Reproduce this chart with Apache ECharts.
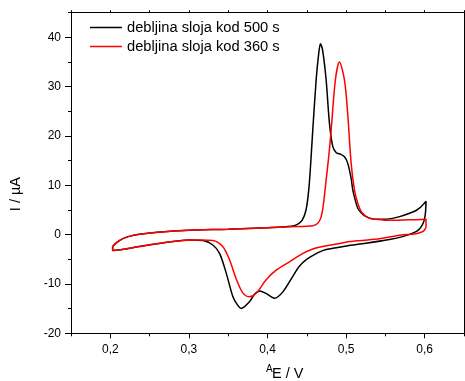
<!DOCTYPE html>
<html><head><meta charset="utf-8">
<script src="https://cdn.jsdelivr.net/npm/echarts@6/dist/echarts.min.js"></script>
<style>html,body{margin:0;padding:0;background:#fff}#c{width:465px;height:381px}</style>
</head><body><div id="c"></div>
<script>
const seriesNames = ['debljina sloja kod 500 s', 'debljina sloja kod 360 s'];
const xTickLabels = ['0,15','0,2','0,25','0,3','0,35','0,4','0,45','0,5','0,55','0,6','0,65'];
const yTickLabels = ['-20','-15','-10','-5','0','5','10','15','20','25','30','35','40','45'];

// 500 s curve (black): forward scan then reverse scan
const blackE = [0.203,0.208,0.216,0.225,0.237,0.26,0.30,0.35,0.40,0.43,0.438,0.444,0.449,0.453,0.4576,0.4619,0.465,0.4674,0.470,0.4746,0.4788,0.483,0.4875,0.4915,0.4979,0.502,0.5063,0.5085,0.512,0.515,0.52,0.5254,0.538,0.5466,0.559,0.568,0.580,0.589,0.595,0.6017,
  0.601,0.5995,0.597,0.593,0.589,0.580,0.572,0.555,0.525,0.50,0.4746,0.465,0.449,0.44,0.432,0.4195,0.409,0.398,0.390,0.384,0.377,0.3665,0.362,0.356,0.3475,0.339,0.3305,0.318,0.301,0.28,0.237,0.215,0.203,0.203];
const blackI = [-2.4,-1.6,-0.8,-0.3,0.1,0.5,0.9,1.1,1.4,1.7,2.1,2.9,5.0,10,21.2,31.4,36.5,38.7,37.5,31.4,22.6,17.9,16.6,16.4,15.8,14.5,11.5,9.1,6.8,5.3,4.3,3.65,3.1,3.1,3.3,3.65,4.3,4.9,5.6,6.8,
  4.5,3.0,2.0,1.1,0.6,0.0,-0.4,-1.0,-1.76,-2.3,-3.0,-3.6,-5.1,-6.5,-8.5,-11.6,-12.9,-11.9,-11.4,-12.0,-13.6,-14.95,-14.3,-12.6,-7.8,-3.8,-2.1,-1.2,-1.08,-1.4,-2.4,-3.0,-3.2,-2.4];

// 360 s curve (red)
const redE = [0.203,0.208,0.216,0.225,0.237,0.26,0.30,0.35,0.40,0.43,0.4576,0.464,0.468,0.471,0.4746,0.478,0.481,0.4864,0.4915,0.4979,0.502,0.5064,0.5106,0.515,0.52,0.5297,0.538,0.555,0.58,0.6017,
  0.6017,0.5995,0.597,0.589,0.568,0.54,0.504,0.4915,0.470,0.4576,0.445,0.428,0.411,0.398,0.3856,0.377,0.3686,0.360,0.3517,0.343,0.3305,0.3135,0.28,0.237,0.215,0.203,0.203];
const redI = [-2.4,-1.6,-0.8,-0.3,0.1,0.5,0.9,1.1,1.4,1.6,1.8,2.3,3.5,6,11.1,16,21.2,31.4,35.0,31.4,24.6,14.5,9.1,6.3,4.5,3.3,3.1,2.9,3.0,3.1,
  1.6,0.9,0.6,0.2,-0.1,-0.9,-1.4,-1.8,-2.4,-2.9,-3.8,-5.5,-7.2,-9.2,-11.9,-12.6,-11.8,-8.9,-5.1,-2.4,-1.2,-1.1,-1.4,-2.4,-3.0,-3.2,-2.4];

const pairs = (a, b) => a.map((v, i) => [v, b[i]]);
const FONT = 'Liberation Sans, Arial, sans-serif';
const LINE = {show: true, onZero: false, lineStyle: {color: '#000', width: 1}};

const chart = echarts.init(document.getElementById('c'), null, {renderer: 'canvas'});
chart.setOption({
  animation: false,
  backgroundColor: '#fff',
  grid: {left: 71, right: 1, top: 12.7, bottom: 47.7, containLabel: false},
  legend: {
    orient: 'vertical', left: 90, top: 20, padding: 0, itemWidth: 32, itemHeight: 14, itemGap: 4,
    textStyle: {fontFamily: FONT, fontSize: 14.7, color: '#000'},
    data: seriesNames.map(n => ({name: n, icon: 'path://M0,0L32,0L32,1.5L0,1.5Z'}))
  },
  xAxis: [
    {type: 'value', position: 'bottom', min: 0.15, max: 0.65, interval: 0.05,
     axisLine: LINE,
     axisTick: {show: true, length: 3, lineStyle: {color: '#000'}},
     axisLabel: {show: false}, splitLine: {show: false}},
    {type: 'category', position: 'bottom', boundaryGap: false, data: xTickLabels,
     axisLine: {show: false, onZero: false},
     axisTick: {show: true, length: 5, interval: (i) => i % 2 === 1, lineStyle: {color: '#000'}},
     axisLabel: {show: true, interval: (i) => i % 2 === 1, margin: 10, fontFamily: FONT, fontSize: 12, color: '#000'},
     splitLine: {show: false}},
    {type: 'value', position: 'top', min: 0.15, max: 0.65, interval: 0.05,
     axisLine: LINE,
     axisTick: {show: true, length: 2.5, inside: false, lineStyle: {color: '#000'}},
     axisLabel: {show: false}, splitLine: {show: false}}
  ],
  yAxis: [
    {type: 'value', position: 'left', min: -20, max: 45, interval: 5,
     axisLine: LINE,
     axisTick: {show: true, length: 3, lineStyle: {color: '#000'}},
     axisLabel: {show: false}, splitLine: {show: false}},
    {type: 'category', position: 'left', boundaryGap: false, data: yTickLabels,
     axisLine: {show: false, onZero: false},
     axisTick: {show: true, length: 6, interval: (i) => i % 2 === 0 && i < 13, lineStyle: {color: '#000'}},
     axisLabel: {show: true, interval: (i) => i % 2 === 0 && i < 13, margin: 10, fontFamily: FONT, fontSize: 12, color: '#000'},
     splitLine: {show: false}},
    {type: 'value', position: 'right', min: -20, max: 45, interval: 5,
     axisLine: LINE,
     axisTick: {show: false}, axisLabel: {show: false}, splitLine: {show: false}}
  ],
  series: [
    {name: seriesNames[0], type: 'line', xAxisIndex: 0, yAxisIndex: 0, data: pairs(blackE, blackI),
     symbol: 'none', smooth: 0.3, lineStyle: {color: '#000', width: 1.5}, itemStyle: {color: '#000'}, z: 2},
    {name: seriesNames[1], type: 'line', xAxisIndex: 0, yAxisIndex: 0, data: pairs(redE, redI),
     symbol: 'none', smooth: 0.3, lineStyle: {color: '#ff0000', width: 1.5}, itemStyle: {color: '#ff0000'}, z: 3}
  ],
  graphic: [
    {type: 'text', left: 8, top: 177, rotation: Math.PI / 2,
     style: {text: 'I / µA', fontFamily: FONT, fontSize: 14.5, fill: '#000'}},
    {type: 'text', left: 272, top: 366, style: {text: 'E / V', fontFamily: FONT, fontSize: 14.5, fill: '#000'}},
    {type: 'text', left: 266, top: 364, style: {text: 'A', fontFamily: FONT, fontSize: 10, fill: '#000'}}
  ]
});
</script></body></html>
